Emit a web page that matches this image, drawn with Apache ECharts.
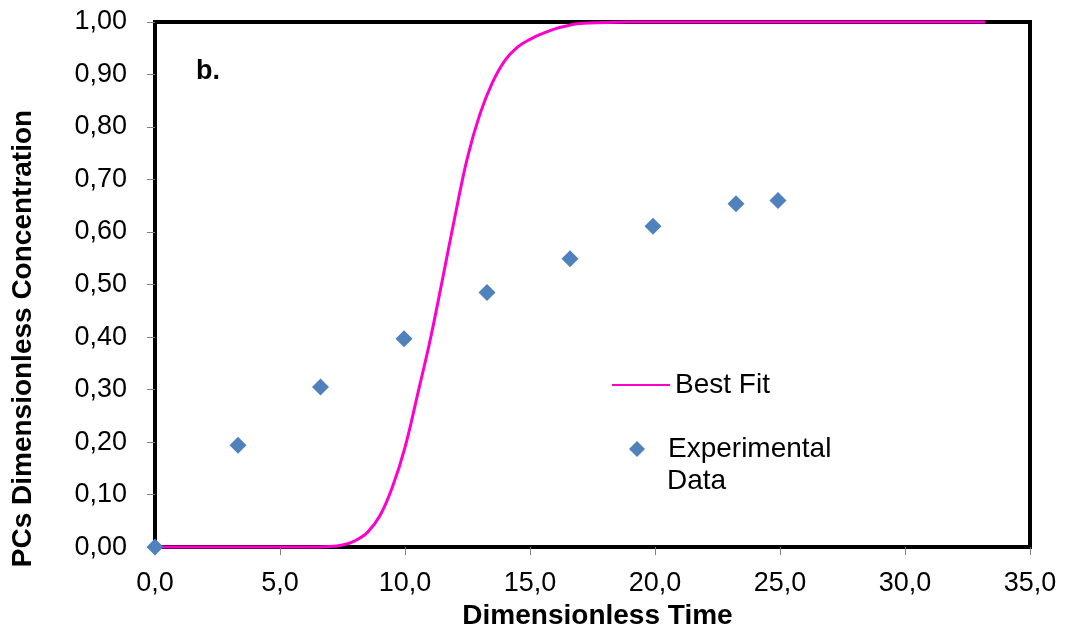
<!DOCTYPE html>
<html>
<head>
<meta charset="utf-8">
<script src="https://cdn.jsdelivr.net/npm/echarts@6/dist/echarts.min.js"></script>
<style>html,body{margin:0;padding:0;background:#fff}#c{width:1066px;height:635px}</style>
</head>
<body>
<div id="c"></div>
<script>
// Experimental data (dimensionless time, concentration)
var expTime = [0.0, 3.32, 6.62, 9.96, 13.28, 16.6, 19.92, 23.24, 24.92];
var expConc = [0.000, 0.194, 0.305, 0.397, 0.485, 0.549, 0.611, 0.654, 0.660];
// Best fit curve
var fitTime = [0, 3, 6, 7.0, 7.5, 8.0, 8.5, 9.0, 9.5, 10.0, 10.5, 11.0, 11.5, 12.0, 12.5, 13.0, 13.5, 14.0, 14.5, 15.0, 15.5, 16.0, 16.5, 17.0, 18.0, 19.0, 22.0, 26.0, 30.0, 33.2];
var fitConc = [0, 0, 0, 0.001, 0.004, 0.012, 0.028, 0.06, 0.115, 0.19, 0.29, 0.393, 0.51, 0.63, 0.742, 0.825, 0.885, 0.927, 0.952, 0.967, 0.978, 0.987, 0.993, 0.997, 0.999, 1.0, 1.0, 1.0, 1.0, 1.0];

var FONT = '"Liberation Sans", Arial, sans-serif';
var expData = expTime.map(function (t, i) { return [t, expConc[i]]; });
var fitData = fitTime.map(function (t, i) { return [t, fitConc[i]]; });

var chart = echarts.init(document.getElementById('c'), null, {renderer: 'canvas'});
chart.setOption({
  animation: false,
  backgroundColor: '#fff',
  grid: {left: 155, right: 36, top: 22, bottom: 81, show: true, borderColor: '#000', borderWidth: 4, backgroundColor: 'transparent'},
  xAxis: {
    type: 'value', min: 0, max: 35, interval: 5,
    name: 'Dimensionless Time', nameLocation: 'middle', nameGap: 52,
    nameTextStyle: {fontFamily: FONT, fontSize: 28, fontWeight: 'bold', color: '#000', padding: [0, 0, 0, 10]},
    axisLine: {show: false},
    axisTick: {show: true, length: 8, lineStyle: {color: '#808080', width: 1}},
    splitLine: {show: false},
    axisLabel: {fontFamily: FONT, fontSize: 27, color: '#000', margin: 23,
      formatter: function (v) { return v.toFixed(1).replace('.', ','); }}
  },
  yAxis: {
    type: 'value', min: 0, max: 1, interval: 0.1,
    name: 'PCs Dimensionless Concentration', nameLocation: 'middle', nameGap: 118, nameRotate: 90,
    nameTextStyle: {fontFamily: FONT, fontSize: 28, fontWeight: 'bold', color: '#000', padding: [0, 108, 0, 0]},
    axisLine: {show: false},
    axisTick: {show: true, length: 8, lineStyle: {color: '#808080', width: 1}},
    splitLine: {show: false},
    axisLabel: {fontFamily: FONT, fontSize: 27, color: '#000', margin: 28,
      formatter: function (v) { return v.toFixed(2).replace('.', ','); }}
  },
  legend: [{
    data: [{name: 'Best Fit', icon: 'rect'}],
    left: 612, top: 369, orient: 'vertical', padding: 0,
    itemWidth: 58, itemHeight: 2,
    textStyle: {fontFamily: FONT, fontSize: 28, lineHeight: 32, color: '#000'}
  }, {
    data: [{name: 'Experimental Data', icon: 'diamond'}],
    left: 629, top: 433, orient: 'vertical', padding: 0,
    itemWidth: 16, itemHeight: 16,
    formatter: function () { return '{s|}Experimental'; },
    textStyle: {fontFamily: FONT, fontSize: 28, lineHeight: 32, color: '#000',
      rich: {s: {width: 18}}}
  }],
  graphic: [
    {type: 'text', left: 196, top: 58, style: {text: 'b.', font: 'bold 27px ' + FONT, fill: '#000'}},
    {type: 'text', left: 667, top: 467, style: {text: 'Data', font: '28px ' + FONT, fill: '#000'}}
  ],
  series: [{
    name: 'Best Fit', type: 'line', data: fitData, smooth: 0.4, showSymbol: false, symbol: 'none',
    clip: false, z: 3,
    lineStyle: {color: '#FF00CC', width: 3}, itemStyle: {color: '#FF00CC'}
  }, {
    name: 'Experimental Data', type: 'scatter', data: expData, symbol: 'diamond', symbolSize: 17,
    clip: false, z: 4,
    itemStyle: {color: '#4F81BD', opacity: 1}
  }]
});
</script>
</body>
</html>
